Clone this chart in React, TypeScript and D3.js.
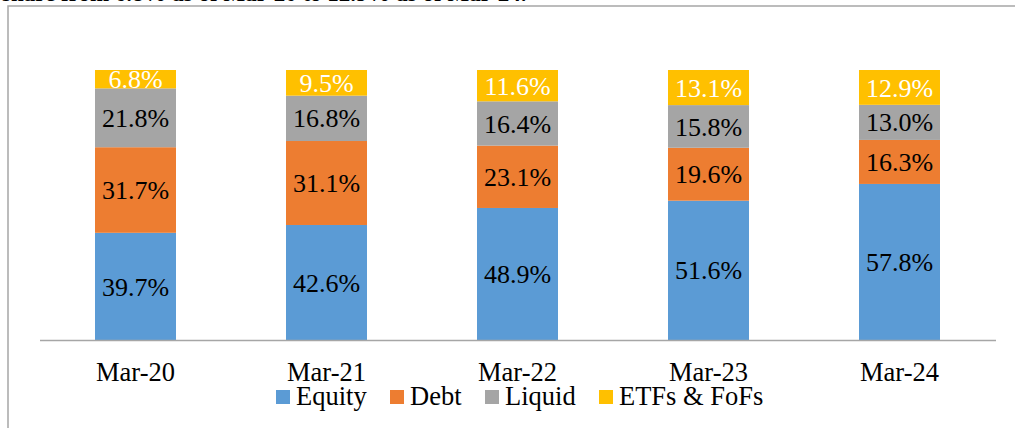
import React from "react";
import * as d3 from "d3";

const categories = ["Mar-20", "Mar-21", "Mar-22", "Mar-23", "Mar-24"];
const seriesNames = ["Equity", "Debt", "Liquid", "ETFs & FoFs"];
const equity = [39.7, 42.6, 48.9, 51.6, 57.8];
const debt = [31.7, 31.1, 23.1, 19.6, 16.3];
const liquid = [21.8, 16.8, 16.4, 15.8, 13.0];
const etfs = [6.8, 9.5, 11.6, 13.1, 12.9];
const colors = ["#5B9BD5", "#ED7D31", "#A5A5A5", "#FFC000"];
const labelColors = ["#000", "#000", "#000", "#fff"];

const W = 1015;
const H = 428;
const FONT = "'Liberation Serif', 'Times New Roman', serif";

export default function App() {
  const seriesVals = [equity, debt, liquid, etfs];
  const rows = categories.map((c, i) => {
    const r: any = { cat: c };
    seriesNames.forEach((s, k) => (r[s] = seriesVals[k][i]));
    return r;
  });
  const stacked = d3.stack<any>().keys(seriesNames)(rows);

  const x = d3.scaleBand().domain(categories).range([40, 995]).paddingInner(0.576).paddingOuter(0.288);
  const y = d3.scaleLinear().domain([0, 100]).range([340, 70]);

  const legendX = [276, 390, 485, 599];

  return (
    <div style={{ position: "fixed", left: 0, top: 0 }}>
      <svg width={W} height={H} style={{ display: "block", background: "#fff" }}>
        <text x={2} y={0.5} fontFamily={FONT} fontSize={23} fontWeight="bold" fill="#000">
          share from 6.8% as of Mar-20 to 12.9% as of Mar-24.
        </text>
        <rect x={8} y={6} width={W + 20} height={H + 20} fill="#fff" stroke="#a6a6a6" strokeWidth={1.5} />
        {stacked.map((s, k) =>
          s.map((d, i) => {
            const bx = x(categories[i])!;
            const y0 = y(d[0]);
            const y1 = y(Math.min(d[1], 100));
            return (
              <rect key={`${k}-${i}`} x={bx} y={y1} width={x.bandwidth()} height={y0 - y1} fill={colors[k]} />
            );
          })
        )}
        {stacked.map((s, k) =>
          s.map((d, i) => {
            const bx = x(categories[i])! + x.bandwidth() / 2;
            const yc = (y(d[0]) + y(Math.min(d[1], 100))) / 2;
            return (
              <text
                key={`l-${k}-${i}`}
                x={bx}
                y={yc}
                dy="0.35em"
                textAnchor="middle"
                fontFamily={FONT}
                fontSize={26}
                fill={labelColors[k]}
              >
                {seriesVals[k][i].toFixed(1)}%
              </text>
            );
          })
        )}
        <line x1={40} x2={996} y1={340.5} y2={340.5} stroke="#a6a6a6" strokeWidth={1.5} />
        {categories.map((c) => (
          <text
            key={c}
            x={x(c)! + x.bandwidth() / 2}
            y={381}
            textAnchor="middle"
            fontFamily={FONT}
            fontSize={26.5}
            fill="#000"
          >
            {c}
          </text>
        ))}
        {seriesNames.map((s, k) => (
          <g key={s}>
            <rect x={legendX[k]} y={390} width={14} height={14} fill={colors[k]} />
            <text x={legendX[k] + 20} y={405} fontFamily={FONT} fontSize={26.5} fill="#000">
              {s}
            </text>
          </g>
        ))}
      </svg>
    </div>
  );
}
